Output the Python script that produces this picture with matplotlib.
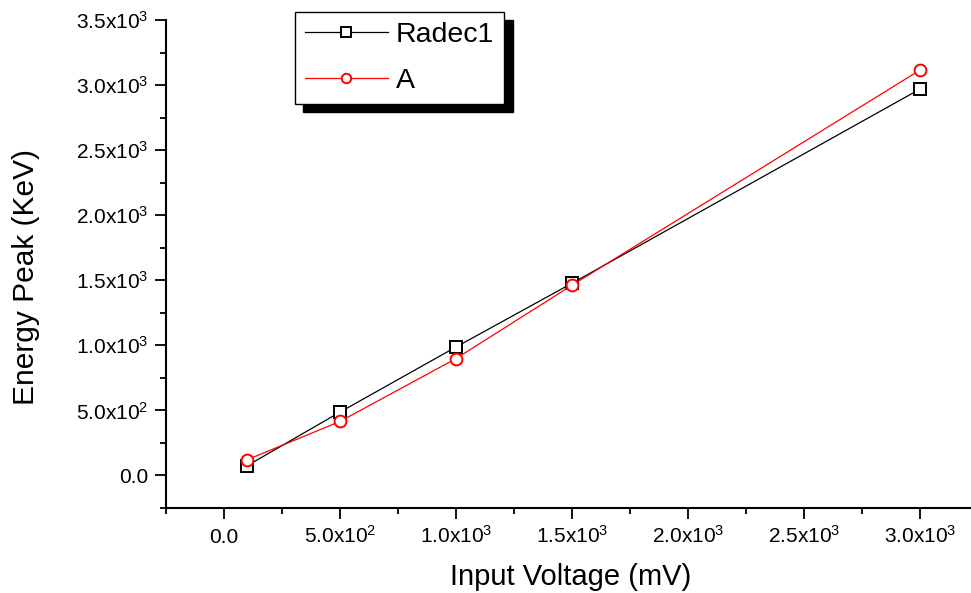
import matplotlib
matplotlib.use("Agg")
import matplotlib.pyplot as plt
from matplotlib.ticker import MultipleLocator, FuncFormatter

plt.rcParams["font.family"] = ["Liberation Sans", "DejaVu Sans"]
plt.rcParams["mathtext.fontset"] = "custom"
plt.rcParams["mathtext.rm"] = "Liberation Sans"
plt.rcParams["mathtext.it"] = "Liberation Sans:italic"
plt.rcParams["mathtext.bf"] = "Liberation Sans:bold"

# data
input_voltage = [100, 500, 1000, 1500, 3000]
radec1_peak = [75, 487, 987, 1477, 2969]
a_peak = [121, 415, 898, 1462, 3115]

x_major = 500
y_major = 500


def sci_label(v, pos):
    """
    Format a tick value as 3.5x10^3 like the original Origin plot.
    """
    if abs(v) < 1e-9:
        return "0.0"
    exp = 0
    m = v
    while abs(m) >= 10:
        m /= 10
        exp += 1
    return f"{m:.1f}x10$^{{{exp}}}$"


fig = plt.figure(figsize=(9.71, 5.93), dpi=100)
ax = fig.add_axes([166 / 971, 1 - 508 / 593, 1 - 166 / 971, (508 - 20) / 593])

ax.plot(
    input_voltage, radec1_peak,
    color="black", lw=0.9, marker="s", ms=8.5,
    mfc="white", mec="black", mew=1.4, label="Radec1"
)
ax.plot(
    input_voltage, a_peak,
    color="red", lw=0.9, marker="o", ms=8.5,
    mfc="white", mec="red", mew=1.4, label="A"
)

ax.set_xlim(-250, 3220)
ax.set_ylim(-250, 3500)

ax.xaxis.set_major_locator(MultipleLocator(x_major))
ax.xaxis.set_minor_locator(MultipleLocator(x_major / 2))
ax.yaxis.set_major_locator(MultipleLocator(y_major))
ax.yaxis.set_minor_locator(MultipleLocator(y_major / 2))
ax.xaxis.set_major_formatter(FuncFormatter(sci_label))
ax.yaxis.set_major_formatter(FuncFormatter(sci_label))

for side in ["top", "right"]:
    ax.spines[side].set_visible(False)
for side in ["left", "bottom"]:
    ax.spines[side].set_linewidth(1.5)

ax.tick_params(which="major", direction="out", length=8, width=1.3,
               labelsize=15, pad=5)
ax.tick_params(which="minor", direction="out", length=4.5, width=1.3)
# x labels sit on a common baseline, whether or not they carry an exponent
ax.tick_params(axis="x", which="major", pad=17)
for lbl in ax.get_xticklabels():
    lbl.set_verticalalignment("baseline")

ax.set_xlabel("Input Voltage (mV)", fontsize=21)
ax.set_ylabel("Energy Peak (KeV)", fontsize=21.5)
ax.xaxis.set_label_coords(0.503, -0.113)
ax.yaxis.set_label_coords(-0.157, 0.473)

leg = ax.legend(
    loc="upper left",
    bbox_to_anchor=(295 / 971, 1 - 12 / 593),
    bbox_transform=fig.transFigure,
    borderaxespad=0,
    fontsize=20.5,
    frameon=True,
    fancybox=False,
    shadow={"ox": 6, "oy": -6, "facecolor": "black",
            "edgecolor": "black", "alpha": 1},
    handlelength=2.9,
    handletextpad=0.3,
    numpoints=1,
    markerscale=0.8,
    borderpad=0.35,
    labelspacing=0.7,
)
leg.get_frame().set_edgecolor("black")
leg.get_frame().set_linewidth(1.0)
leg.get_frame().set_alpha(1)

fig.savefig("out.png", dpi=100)
